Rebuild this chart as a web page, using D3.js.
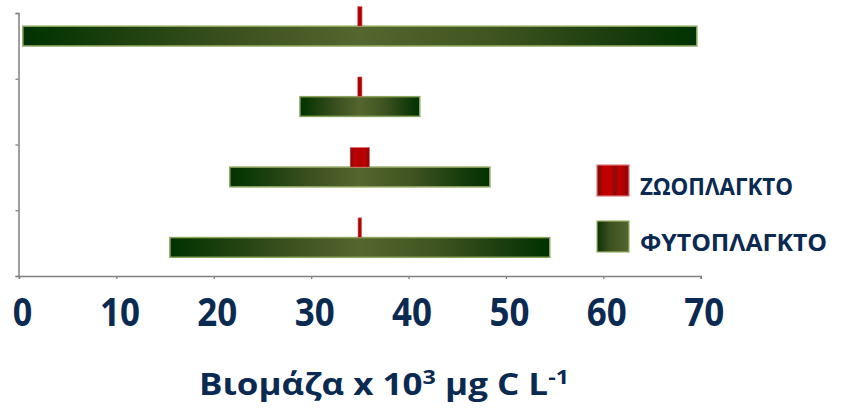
<!DOCTYPE html>
<html>
<head>
<meta charset="utf-8">
<script src="https://d3js.org/d3.v7.min.js"></script>
<style>
  body { margin: 0; background: #fff; }
  svg { display: block; font-family: "Open Sans", sans-serif; }
</style>
</head>
<body>
<script>
// rows of the kite diagram, top to bottom
var rows = ["1", "2", "3", "4"];
// biomass widths, drawn centred on the midline
var phyto = [69.2, 12.3, 26.7, 39.0];
var zoo = [0.45, 0.44, 2.0, 0.38];
var midline = 35;
var xTicks = [0, 10, 20, 30, 40, 50, 60, 70];
var series = ["ΖΩΟΠΛΑΓΚΤΟ", "ΦΥΤΟΠΛΑΓΚΤΟ"];

var width = 842, height = 411;
var navy = "#0b2a52";

var svg = d3.select("body").append("svg")
    .attr("width", width)
    .attr("height", height);

// gradients
var defs = svg.append("defs");
function grad(id, stops) {
    var g = defs.append("linearGradient").attr("id", id)
        .attr("x1", "0%").attr("x2", "100%").attr("y1", "0%").attr("y2", "0%");
    stops.forEach(function(s) {
        g.append("stop").attr("offset", s[0]).attr("stop-color", s[1]);
    });
}
grad("phytoGrad", [["0%", "#003300"], ["8%", "#0f3a08"], ["30%", "#3a4f1e"], ["50%", "#55662e"], ["70%", "#3f5420"], ["92%", "#11380a"], ["100%", "#003300"]]);
grad("zooGrad", [["0%", "#7a0c0c"], ["25%", "#c00000"], ["50%", "#b00000"], ["75%", "#c00000"], ["100%", "#7a0c0c"]]);
grad("zooLegend", [["0%", "#6e1010"], ["20%", "#c00000"], ["45%", "#c00000"], ["55%", "#8a0c0c"], ["70%", "#c00000"], ["100%", "#8a0a0a"]]);
grad("phytoLegend", [["0%", "#0c3306"], ["40%", "#3c5020"], ["100%", "#55662e"]]);

// scales
var x = d3.scaleLinear().domain([0, 70]).range([19, 700.7]);
var yRow = d3.scaleBand().domain(rows).range([6.5, 257.3]).paddingInner(0.44).paddingOuter(0);
var ySub = d3.scaleBand().domain(series).range([0, yRow.bandwidth()]);
var yAxisScale = d3.scaleLinear().domain([0, rows.length]).range([276, 13]);

// axes
var yAxis = svg.append("g")
    .attr("transform", "translate(18.5,0)")
    .call(d3.axisLeft(yAxisScale).ticks(rows.length).tickSize(3).tickFormat(""));
yAxis.select(".domain").attr("stroke", "#808080").attr("stroke-width", 1.5);
yAxis.selectAll(".tick line").attr("stroke", "#808080").attr("stroke-width", 1.3);

var xAxis = svg.append("g")
    .attr("transform", "translate(0,276)")
    .call(d3.axisBottom(x).tickValues(xTicks).tickSize(3).tickSizeOuter(3).tickPadding(0));
xAxis.select(".domain").attr("stroke", "#808080").attr("stroke-width", 1.5);
xAxis.selectAll(".tick line").attr("stroke", "#808080").attr("stroke-width", 1.3);
xAxis.selectAll(".tick text")
    .attr("y", 50)
    .attr("dy", 0)
    .attr("dx", 3)
    .attr("fill", navy)
    .style("font-family", "'Open Sans', sans-serif")
    .style("font-weight", 700)
    .style("font-size", "40px")
    .attr("textLength", function(d) { return String(d).length > 1 ? 40 : 19.5; })
    .attr("lengthAdjust", "spacingAndGlyphs");

// phytoplankton bars
svg.append("g").selectAll("rect")
    .data(phyto)
    .enter().append("rect")
    .attr("x", function(d) { return x(midline - d / 2); })
    .attr("width", function(d) { return x(midline + d / 2) - x(midline - d / 2); })
    .attr("y", function(d, i) { return yRow(rows[i]) + ySub(series[1]); })
    .attr("height", ySub.bandwidth())
    .attr("fill", "url(#phytoGrad)")
    .attr("stroke", "#8ca45c")
    .attr("stroke-width", 1.5);

// zooplankton bars
svg.append("g").selectAll("rect")
    .data(zoo)
    .enter().append("rect")
    .attr("x", function(d) { return x(midline - d / 2); })
    .attr("width", function(d) { return x(midline + d / 2) - x(midline - d / 2); })
    .attr("y", function(d, i) { return yRow(rows[i]) + ySub(series[0]); })
    .attr("height", ySub.bandwidth())
    .attr("fill", "url(#zooGrad)")
    .attr("stroke", "#e07a7a")
    .attr("stroke-width", 0.6);

// legend
var legend = svg.append("g").attr("transform", "translate(597,165)");
var legendFill = ["url(#zooLegend)", "url(#phytoLegend)"];
var legendStroke = ["#e07a7a", "#9bb56a"];
var legendLen = [153, 187];
series.forEach(function(s, i) {
    var row = legend.append("g").attr("transform", "translate(0," + (i * 56) + ")");
    row.append("rect")
        .attr("width", 32).attr("height", 31)
        .attr("fill", legendFill[i])
        .attr("stroke", legendStroke[i])
        .attr("stroke-width", 1.2);
    row.append("text")
        .attr("x", 43)
        .attr("y", 30)
        .attr("fill", navy)
        .style("font-weight", 700)
        .style("font-size", "24px")
        .attr("textLength", legendLen[i])
        .attr("lengthAdjust", "spacingAndGlyphs")
        .text(s);
});

// x axis title
var title = svg.append("text")
    .attr("x", 199)
    .attr("y", 395)
    .attr("fill", navy)
    .style("font-weight", 700)
    .style("font-size", "30px")
    .attr("textLength", 370)
    .attr("lengthAdjust", "spacingAndGlyphs");
title.append("tspan").text("Βιομάζα x 10");
title.append("tspan").attr("dy", -11).style("font-size", "20px").text("3");
title.append("tspan").attr("dy", 11).text(" μg C L");
title.append("tspan").attr("dy", -11).style("font-size", "20px").text("-1");
</script>
</body>
</html>
